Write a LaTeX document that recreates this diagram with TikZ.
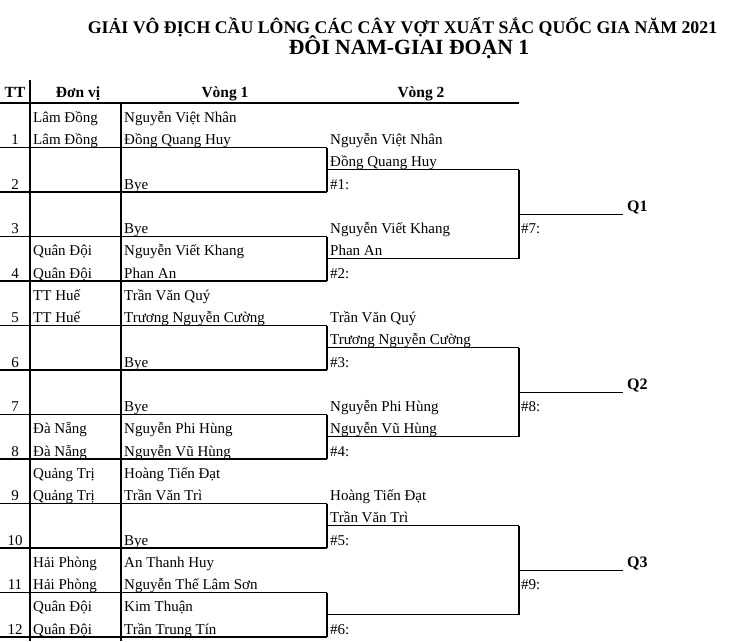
\documentclass[tikz,border=0pt]{standalone}
\usepackage{fontspec}
\setmainfont{Liberation Serif}
\tikzset{
  gl/.style={line width=1.4pt, black},
  cell/.style={font=\fontsize{15}{15}\selectfont, inner sep=0pt, anchor=base west},
  num/.style={font=\fontsize{15}{15}\selectfont, inner sep=0pt, anchor=base},
  hdr/.style={font=\bfseries\fontsize{15.5}{16}\selectfont, inner sep=0pt, anchor=base},
  qlab/.style={font=\bfseries\fontsize{16}{16}\selectfont, inner sep=0pt, anchor=base west},
  ttl/.style={font=\bfseries\fontsize{17.8}{18}\selectfont, inner sep=0pt, anchor=base},
  ttlb/.style={font=\bfseries\fontsize{21.7}{22}\selectfont, inner sep=0pt, anchor=base},
}
\begin{document}
\begin{tikzpicture}[x=1pt,y=-1pt]
\useasboundingbox (0,0) rectangle (730,641);
% titles
\node[ttl] (title1) at (402.5,33) {GIẢI VÔ ĐỊCH CẦU LÔNG CÁC CÂY VỢT XUẤT SẮC QUỐC GIA NĂM 2021};
\node[ttlb] (title2) at (409,54) {ĐÔI NAM-GIAI ĐOẠN 1};
% header
\node[hdr] (hTT) at (15,97) {TT};
\node[hdr] (hDV) at (78,97) {Đơn vị};
\node[hdr] (hV1) at (225,97) {Vòng 1};
\node[hdr] (hV2) at (421,97) {Vòng 2};
\draw[gl] (0,103) -- (519,103);
\draw[gl] (30,80) -- (30,641);
\draw[gl] (121,103) -- (121,641);
% slot boundary lines
\foreach \i in {1,...,12}{
  \pgfmathsetmacro\yb{103+44.5*\i}
  \draw[gl] (0,\yb) -- (327,\yb);
}
% table rows
\foreach \i/\ua/\ub/\pa/\pb in {
  1/Lâm Đồng/Lâm Đồng/Nguyễn Việt Nhân/Đồng Quang Huy,
  2///{}/Bye,
  3///{}/Bye,
  4/Quân Đội/Quân Đội/Nguyễn Viết Khang/Phan An,
  5/TT Huế/TT Huế/Trần Văn Quý/Trương Nguyễn Cường,
  6///{}/Bye,
  7///{}/Bye,
  8/Đà Nẵng/Đà Nẵng/Nguyễn Phi Hùng/Nguyễn Vũ Hùng,
  9/Quảng Trị/Quảng Trị/Hoàng Tiến Đạt/Trần Văn Trì,
  10///{}/Bye,
  11/Hải Phòng/Hải Phòng/An Thanh Huy/Nguyễn Thế Lâm Sơn,
  12/Quân Đội/Quân Đội/Kim Thuận/Trần Trung Tín}{
  \pgfmathsetmacro\ya{77.75+44.5*\i}
  \pgfmathsetmacro\yc{100+44.5*\i}
  \node[num] (tt\i) at (15,\yc) {\i};
  \node[cell] (ua\i) at (33,\ya) {\ua};
  \node[cell] (ub\i) at (33,\yc) {\ub};
  \node[cell] (pa\i) at (124,\ya) {\pa};
  \node[cell] (pb\i) at (124,\yc) {\pb};
}
% round 1 bracket verticals (even slots)
\foreach \j/\t/\b in {1/147.5/192, 2/236.5/281, 3/325.5/370, 4/414.5/459, 5/503.5/548, 6/592.5/637}{
  \coordinate (vt\j) at (327,\t);
  \coordinate (vb\j) at (327,\b);
  \draw[gl] (vt\j) -- (vb\j);
}
% round 2 lines
\foreach \j/\y in {1/169.75, 2/258.75, 3/347.75, 4/436.75, 5/525.75, 6/614.75}{
  \coordinate (ms\j) at (327,\y);
  \coordinate (me\j) at (519,\y);
  \draw[gl] (ms\j) -- (me\j);
}
% round 2 text
\node[cell] (w1a) at (330,144.5) {Nguyễn Việt Nhân};
\node[cell] (w1b) at (330,166.75) {Đồng Quang Huy};
\node[cell] (m1) at (330,189) {\#1:};
\node[cell] (w2a) at (330,233.5) {Nguyễn Viết Khang};
\node[cell] (w2b) at (330,255.75) {Phan An};
\node[cell] (m2) at (330,278) {\#2:};
\node[cell] (w3a) at (330,322.5) {Trần Văn Quý};
\node[cell] (w3b) at (330,344.75) {Trương Nguyễn Cường};
\node[cell] (m3) at (330,367) {\#3:};
\node[cell] (w4a) at (330,411.5) {Nguyễn Phi Hùng};
\node[cell] (w4b) at (330,433.75) {Nguyễn Vũ Hùng};
\node[cell] (m4) at (330,456) {\#4:};
\node[cell] (w5a) at (330,500.5) {Hoàng Tiến Đạt};
\node[cell] (w5b) at (330,522.75) {Trần Văn Trì};
\node[cell] (m5) at (330,545) {\#5:};
\node[cell] (m6) at (330,634) {\#6:};
% round 3 brackets
\draw[gl] (me1) -- (me2);
\draw[gl] (me3) -- (me4);
\draw[gl] (me5) -- (me6);
\foreach \j/\y/\q/\m in {1/214.25/Q1/7, 2/392.25/Q2/8, 3/570.25/Q3/9}{
  \coordinate (qs\j) at (519,\y);
  \coordinate (qe\j) at (623,\y);
  \draw[gl] (qs\j) -- (qe\j);
  \node[qlab] (q\j) at (627,\y-3) {\q};
  \node[cell] (mm\j) at (521,\y+19.25) {\#\m:};
}
\end{tikzpicture}
\end{document}
